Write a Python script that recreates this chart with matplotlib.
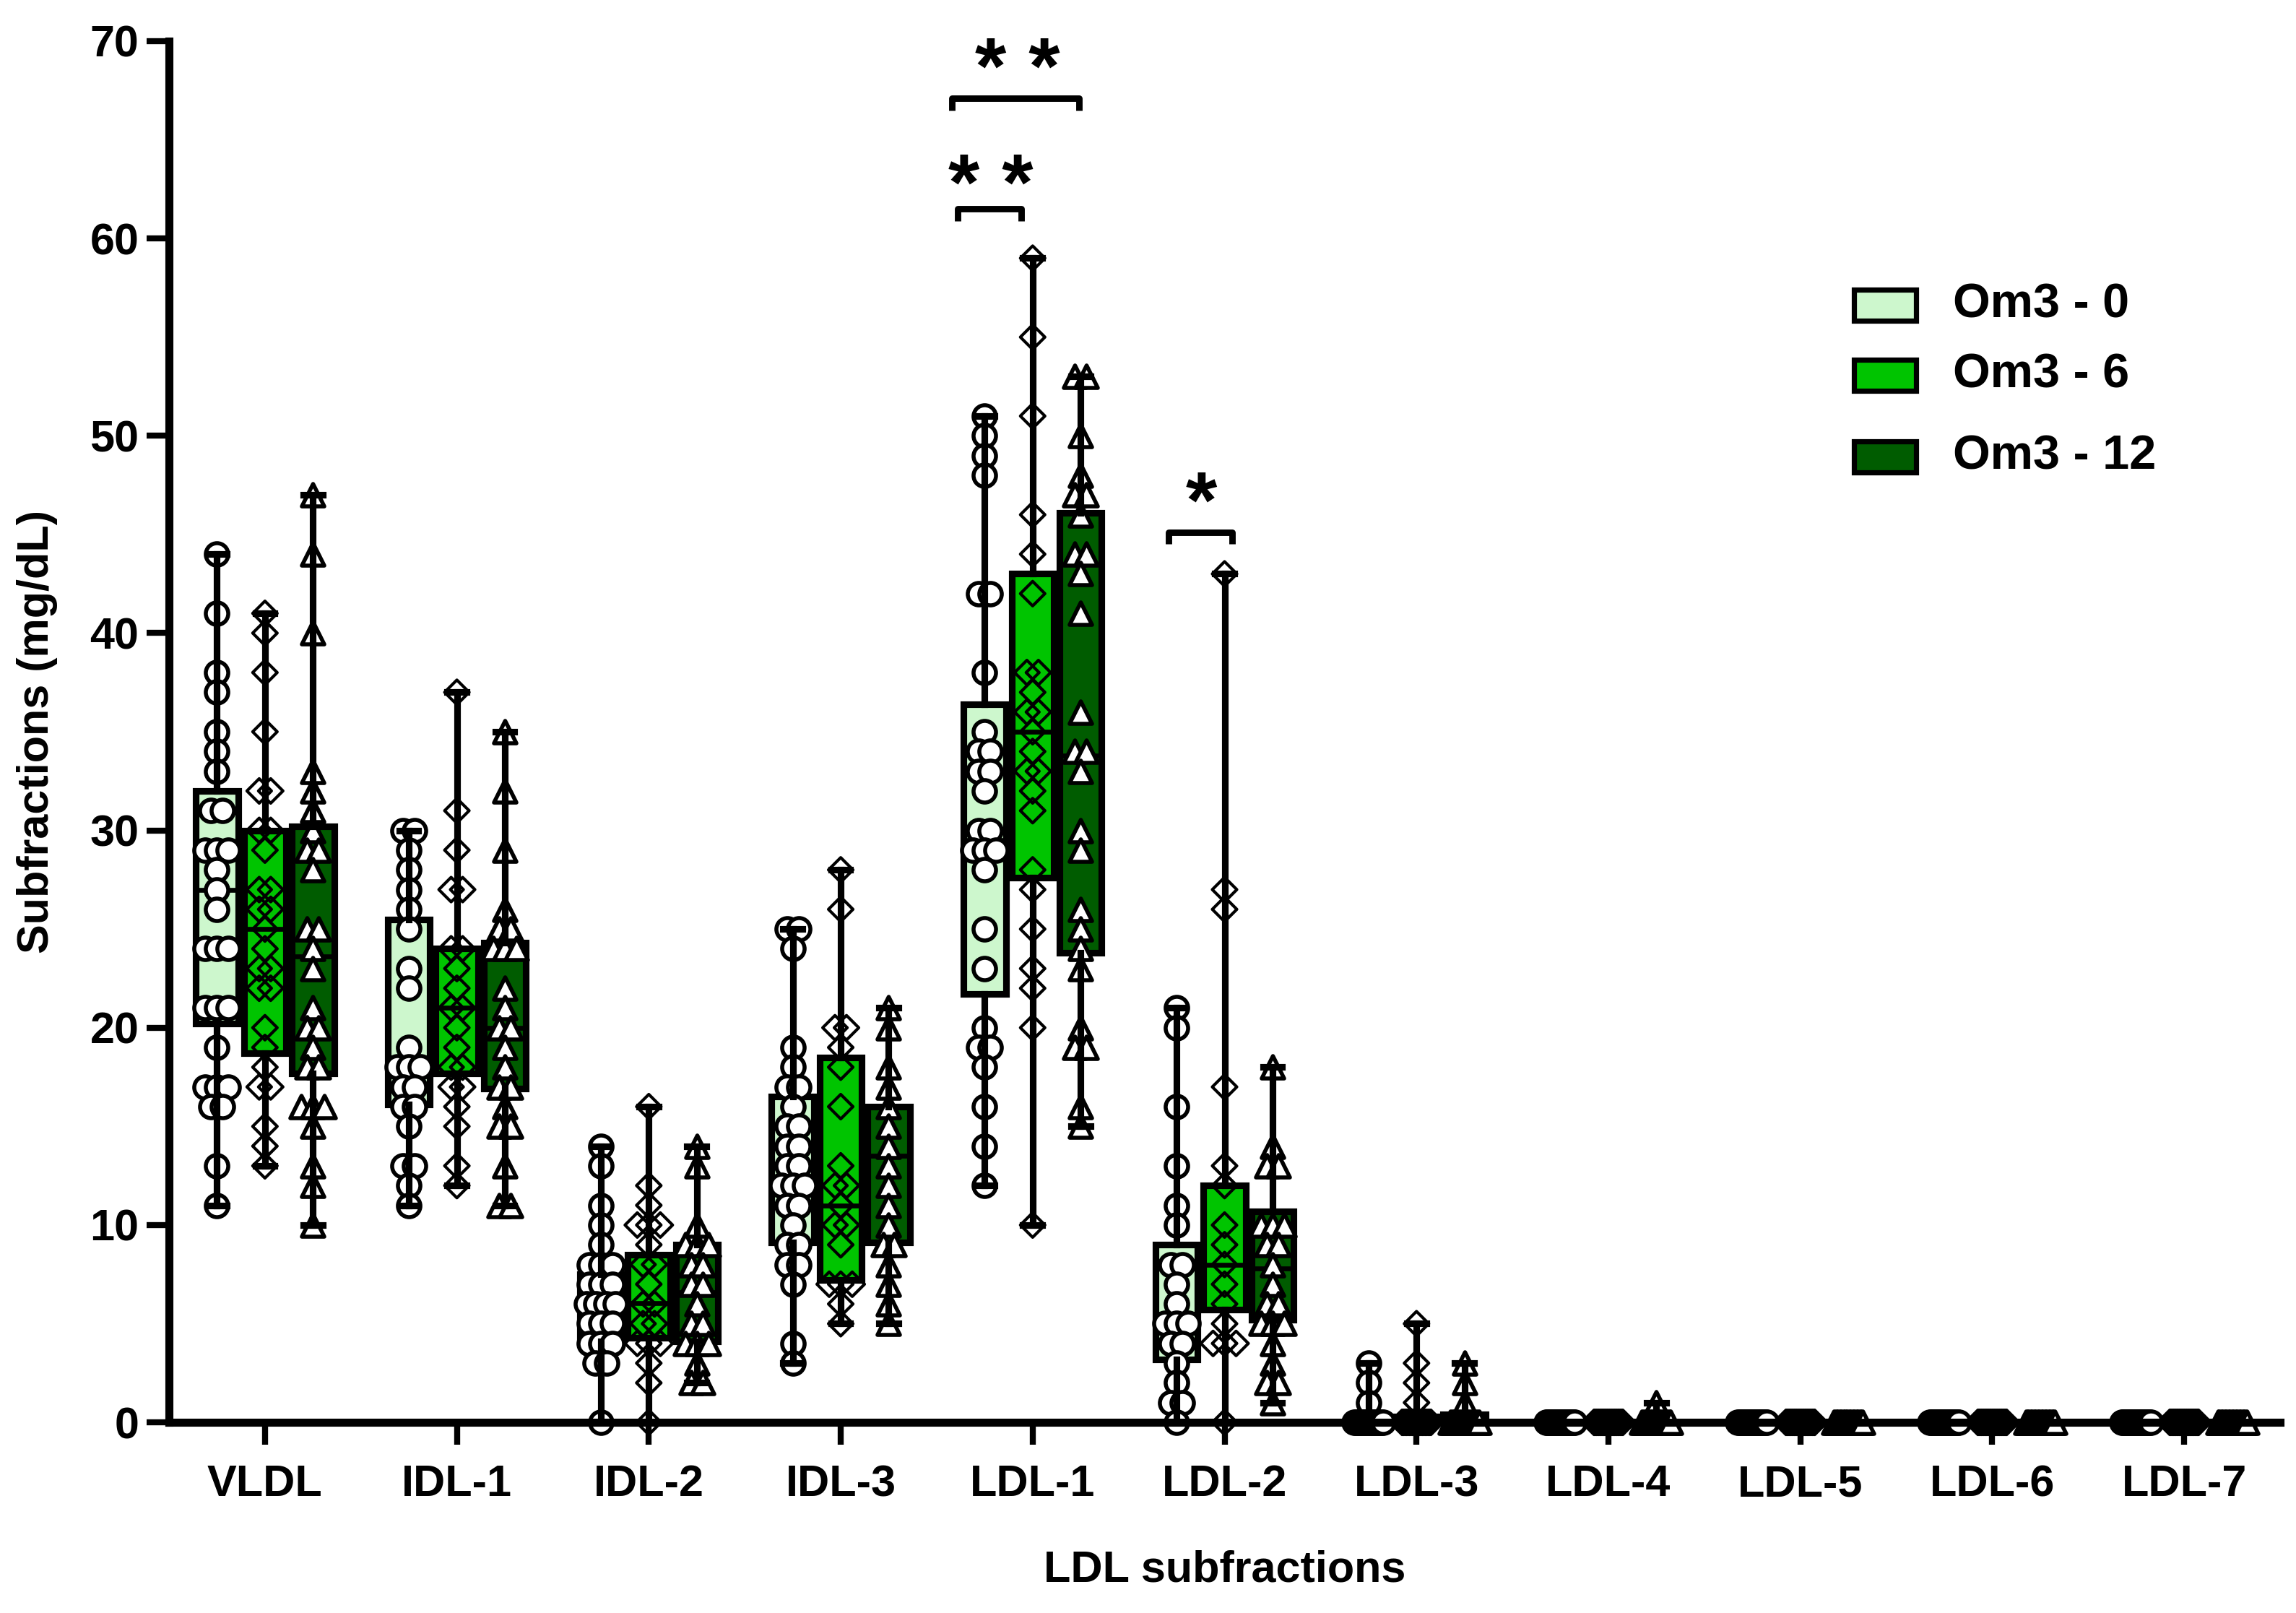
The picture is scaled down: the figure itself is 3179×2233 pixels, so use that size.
import numpy as np
import matplotlib
matplotlib.use("Agg")
import matplotlib.pyplot as plt
from matplotlib.patches import Rectangle

plt.rcParams['font.family'] = ['Liberation Sans', 'DejaVu Sans']
plt.rcParams['font.weight'] = 'bold'

categories = ['VLDL', 'IDL-1', 'IDL-2', 'IDL-3', 'LDL-1', 'LDL-2',
              'LDL-3', 'LDL-4', 'LDL-5', 'LDL-6', 'LDL-7']
groups = ['Om3 - 0', 'Om3 - 6', 'Om3 - 12']
colors = ['#cdf7cd', '#00c400', '#005c00']
markers = ['o', 'D', '^']

# individual points (mg/dL)
om3_0 = [
    [44, 41, 38, 37, 35, 34, 33, 31, 31, 29, 29, 29, 28, 27, 26, 24, 24, 24, 21, 21, 21, 19, 17, 17, 17, 16, 16, 13, 11],
    [30, 30, 29, 28, 27, 26, 25, 23, 22, 19, 18, 18, 18, 17, 17, 16, 16, 15, 13, 13, 12, 11],
    [14, 13, 11, 10, 9, 8, 8, 8, 7, 7, 7, 6, 6, 6, 6, 5, 5, 5, 4, 4, 4, 3, 3, 0],
    [25, 25, 24, 19, 18, 17, 17, 16, 15, 15, 14, 14, 13, 13, 12, 12, 12, 11, 11, 10, 9, 9, 8, 8, 7, 4, 3],
    [51, 50, 49, 48, 42, 42, 38, 35, 34, 34, 33, 33, 32, 30, 30, 29, 29, 29, 28, 25, 23, 20, 19, 19, 18, 16, 14, 12],
    [21, 20, 16, 13, 11, 10, 8, 8, 7, 6, 5, 5, 5, 4, 4, 3, 2, 1, 1, 0],
    [3, 2, 1] + [0] * 22,
    [0] * 25,
    [0] * 25,
    [0] * 25,
    [0] * 25,
]
om3_6 = [
    [41, 40, 38, 35, 32, 32, 30, 30, 29, 27, 27, 26, 26, 25, 24, 23, 23, 22, 22, 20, 19, 18, 17, 17, 15, 14, 13],
    [37, 31, 29, 27, 27, 24, 24, 23, 22, 21, 21, 20, 19, 18, 18, 17, 17, 16, 15, 13, 12],
    [16, 12, 11, 10, 10, 10, 9, 8, 8, 7, 6, 6, 5, 5, 4, 4, 4, 3, 2, 0],
    [28, 26, 20, 20, 19, 18, 16, 13, 12, 12, 11, 10, 10, 9, 7, 7, 7, 6, 5],
    [59, 55, 51, 46, 44, 42, 38, 38, 37, 36, 36, 35, 34, 33, 33, 32, 31, 28, 27, 25, 23, 22, 20, 10],
    [43, 27, 26, 17, 13, 12, 10, 9, 8, 7, 6, 5, 4, 4, 4, 0],
    [5, 3, 2, 1] + [0] * 21,
    [0] * 25,
    [0] * 25,
    [0] * 25,
    [0] * 25,
]
om3_12 = [
    [47, 44, 40, 33, 32, 31, 30, 29, 29, 28, 25, 25, 24, 23, 21, 20, 20, 19, 18, 18, 16, 16, 16, 15, 13, 12, 10],
    [35, 32, 29, 26, 25, 25, 24, 24, 24, 22, 21, 20, 20, 19, 18, 17, 17, 16, 15, 15, 13, 11, 11],
    [14, 13, 10, 9, 9, 9, 8, 8, 7, 7, 6, 5, 5, 4, 4, 4, 3, 2, 2],
    [21, 20, 18, 17, 16, 15, 14, 13, 12, 11, 10, 9, 9, 8, 7, 6, 5],
    [53, 53, 50, 48, 47, 47, 46, 44, 44, 43, 41, 36, 34, 34, 33, 30, 29, 26, 25, 24, 23, 20, 19, 19, 16, 15],
    [18, 14, 13, 13, 10, 10, 10, 9, 9, 8, 7, 6, 6, 5, 5, 5, 4, 3, 2, 2, 1],
    [3, 2, 1] + [0] * 22,
    [1] + [0] * 24,
    [0] * 25,
    [0] * 25,
    [0] * 25,
]

# box statistics
q1 = [[20.2, 16.1, 4.1, 9.1, 21.7, 3.2, 0, 0, 0, 0, 0],
      [18.7, 17.7, 4.3, 7.2, 27.6, 5.7, 0, 0, 0, 0, 0],
      [17.7, 16.9, 4.1, 9.1, 23.8, 5.2, 0, 0, 0, 0, 0]]
med = [[27, 18.5, 5.8, 13, 29.5, 5.5, 0, 0, 0, 0, 0],
       [25, 21, 6.05, 11, 35, 8, 0, 0, 0, 0, 0],
       [23.6, 20, 6.6, 13.5, 33.8, 7.8, 0, 0, 0, 0, 0]]
q3 = [[32, 25.5, 7.5, 16.5, 36.4, 9, 0, 0, 0, 0, 0],
      [30, 24, 8.5, 18.5, 43, 12, 0.3, 0, 0, 0, 0],
      [30.2, 24.3, 9, 16, 46.1, 10.7, 0.4, 0, 0, 0, 0]]

all_data = [om3_0, om3_6, om3_12]

fig = plt.figure(figsize=(3179 / 200, 2233 / 200), dpi=200)
ax = fig.add_axes([0.0736, 0.1182, 0.9195, 0.8563])

offsets = [-0.25, 0, 0.25]
box_w = 0.22

for g in range(3):
    stats = []
    for c in range(len(categories)):
        vals = all_data[g][c]
        stats.append(dict(med=med[g][c], q1=q1[g][c], q3=q3[g][c],
                          whislo=min(vals), whishi=max(vals), fliers=[]))
    pos = np.arange(len(categories)) + offsets[g]
    art = ax.bxp(stats, positions=pos, widths=box_w, patch_artist=True,
                 showfliers=False, capwidths=0.1,
                 boxprops=dict(facecolor=colors[g], edgecolor='black', linewidth=3.3),
                 whiskerprops=dict(color='black', linewidth=3.3),
                 capprops=dict(color='black', linewidth=3.3),
                 medianprops=dict(color='black', linewidth=2.4))
    for b in art['boxes']:
        b.set_zorder(2)
    for m in art['medians']:
        m.set_zorder(2.5)
    for w in art['whiskers'] + art['caps']:
        w.set_zorder(4)

    # scatter points, duplicates spread sideways
    for c in range(len(categories)):
        vals = np.array(all_data[g][c], dtype=float)
        xs = np.zeros(len(vals))
        for v in np.unique(vals):
            idx = np.where(vals == v)[0]
            n = len(idx)
            if n == 1:
                continue
            half = min(0.075, 0.03 * (n - 1))
            xs[idx] = np.linspace(-half, half, n)
        xs = xs + c + offsets[g]
        if markers[g] == 'D':
            ax.scatter(xs, vals, marker='D', s=75, facecolors='none',
                       edgecolors='black', linewidths=1.5, zorder=3, clip_on=False)
        else:
            ax.scatter(xs, vals, marker=markers[g], s=125, facecolors='white',
                       edgecolors='black', linewidths=2.0, zorder=3, clip_on=False)

ax.set_xlim(-0.5, 10.5)
ax.set_ylim(0, 70)
ax.set_xticks(np.arange(len(categories)))
ax.set_xticklabels(categories)
ax.set_yticks(np.arange(0, 71, 10))
for s in ['top', 'right']:
    ax.spines[s].set_visible(False)
for s in ['left', 'bottom']:
    ax.spines[s].set_linewidth(4)
    ax.spines[s].set_zorder(5)
ax.tick_params(axis='both', direction='out', length=11, width=3, labelsize=22)
ax.tick_params(axis='x', pad=10)
ax.tick_params(axis='y', pad=4)
ax.set_xlabel('LDL subfractions', fontsize=22, fontweight='bold', labelpad=22)
ax.set_ylabel('Subfractions (mg/dL)', fontsize=22, fontweight='bold', labelpad=16)

# significance brackets
brackets = [(3.61, 3.94, 61.5, '* *', 3.78, 60.6),
            (3.58, 4.24, 67.1, '* *', 3.92, 66.5),
            (4.71, 5.04, 45.1, '*', 4.88, 44.5)]
for x0, x1, y, txt, tx, ty in brackets:
    ax.plot([x0, x0, x1, x1], [y - 0.6, y, y, y - 0.6], color='black',
            linewidth=3.2, solid_capstyle='butt', clip_on=False, zorder=6)
    ax.text(tx, ty, txt, ha='center', va='bottom', fontsize=40,
            fontweight='bold', clip_on=False)

# legend drawn by hand to keep the row spacing
leg_y = [0.8086, 0.758, 0.699]
for g in range(3):
    ax.add_patch(Rectangle((0.798, leg_y[g] - 0.0112), 0.0294, 0.0225,
                           transform=ax.transAxes, facecolor=colors[g],
                           edgecolor='black', linewidth=2.6, clip_on=False))
    ax.text(0.845, leg_y[g], groups[g], transform=ax.transAxes, fontsize=24,
            fontweight='bold', va='center', ha='left')

fig.savefig('out.png', dpi=200)
